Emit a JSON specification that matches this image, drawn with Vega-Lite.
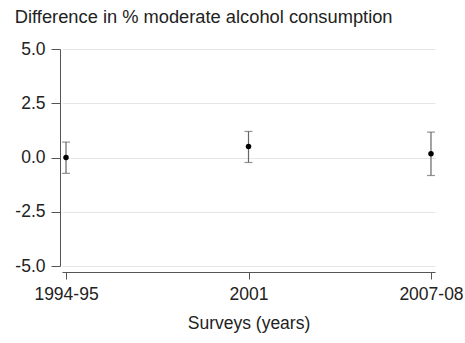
{
  "$schema": "https://vega.github.io/schema/vega-lite/v6.json",
  "autosize": {"type": "none"},
  "padding": {"left": 62, "top": 49, "right": 30, "bottom": 77},
  "width": 373,
  "height": 217,
  "background": "white",
  "config": {
    "font": "Liberation Sans",
    "view": {"stroke": null},
    "axis": {
      "labelFont": "Liberation Sans",
      "titleFont": "Liberation Sans",
      "labelColor": "#222222",
      "titleColor": "#222222",
      "domainColor": "#555555",
      "tickColor": "#555555",
      "labelFontSize": 17.5,
      "titleFontSize": 17.5,
      "titleFontWeight": "normal"
    }
  },
  "title": {
    "text": "Difference in % moderate alcohol consumption",
    "anchor": "start",
    "frame": "bounds",
    "font": "Liberation Sans",
    "fontSize": 18.3,
    "fontWeight": "normal",
    "color": "#222222",
    "offset": 13
  },
  "data": {
    "values": [
      {"survey": "1994-95", "est": 0.0, "lo": -0.73, "hi": 0.71},
      {"survey": "2001", "est": 0.51, "lo": -0.23, "hi": 1.2},
      {"survey": "2007-08", "est": 0.17, "lo": -0.83, "hi": 1.17}
    ]
  },
  "encoding": {
    "x": {
      "field": "survey",
      "type": "ordinal",
      "sort": ["1994-95", "2001", "2007-08"],
      "scale": {"type": "point", "padding": 0.022},
      "axis": {
        "title": "Surveys (years)",
        "labelAngle": 0,
        "offset": 6,
        "tickSize": 7,
        "labelPadding": 6,
        "titlePadding": 12,
        "grid": false
      }
    }
  },
  "layer": [
    {
      "mark": {"type": "rule", "color": "#666666", "strokeWidth": 1.2},
      "encoding": {
        "y": {
          "field": "lo",
          "type": "quantitative",
          "scale": {"domain": [-5, 5], "nice": false},
          "axis": {
            "title": null,
            "values": [5, 2.5, 0, -2.5, -5],
            "labelExpr": "replace(format(datum.value, '.1f'), '\u2212', '-')",
            "offset": 2,
            "tickSize": 9,
            "labelPadding": 6,
            "grid": true,
            "gridColor": "#e6e6e6",
            "gridWidth": 1
          }
        },
        "y2": {"field": "hi"}
      }
    },
    {
      "mark": {"type": "tick", "orient": "horizontal", "color": "#666666", "size": 8, "thickness": 1.2},
      "encoding": {"y": {"field": "lo", "type": "quantitative"}}
    },
    {
      "mark": {"type": "tick", "orient": "horizontal", "color": "#666666", "size": 8, "thickness": 1.2},
      "encoding": {"y": {"field": "hi", "type": "quantitative"}}
    },
    {
      "mark": {"type": "point", "filled": true, "color": "#000000", "opacity": 1, "size": 30},
      "encoding": {"y": {"field": "est", "type": "quantitative"}}
    }
  ]
}
